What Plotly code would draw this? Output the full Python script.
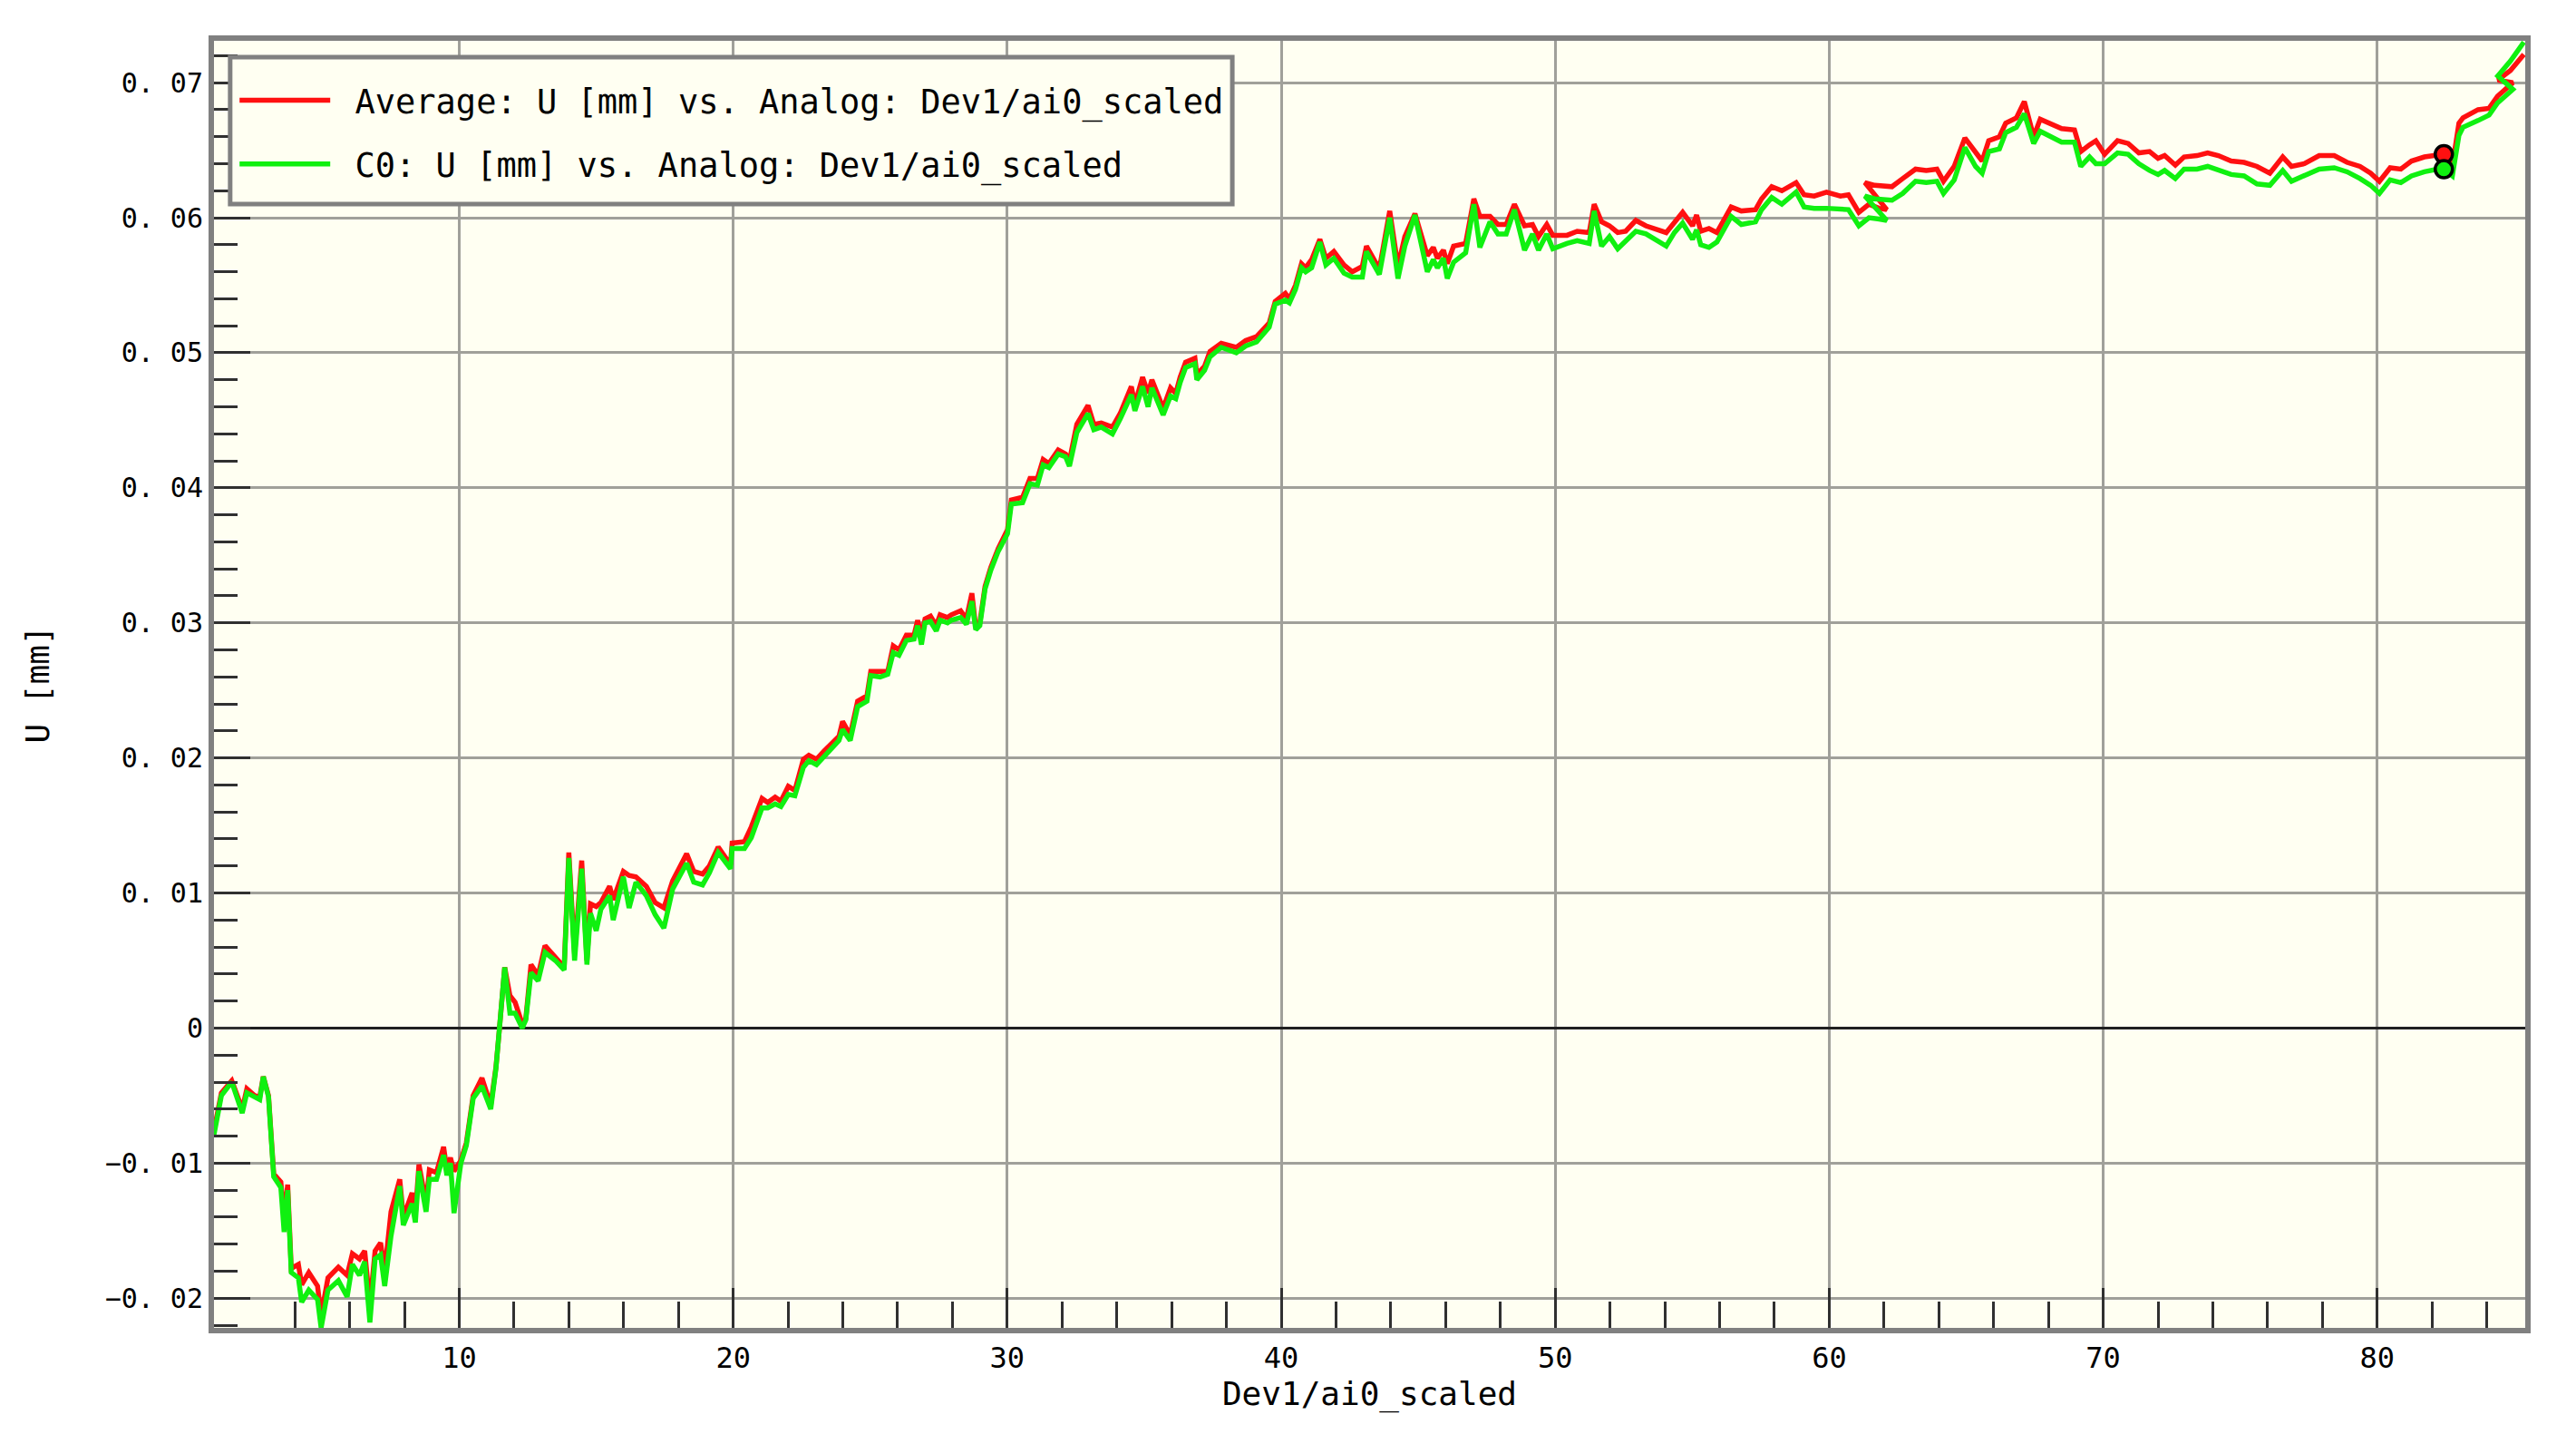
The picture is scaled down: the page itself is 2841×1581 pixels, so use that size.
import plotly.graph_objects as go

# values
analog = [
    1.05, 1.32, 1.70, 2.08, 2.25, 2.53, 2.72, 2.85, 3.04, 3.23, 3.49, 3.61, 3.74, 3.87,
    4.13, 4.25, 4.51, 4.83, 4.96, 5.21, 5.59, 5.91, 6.10, 6.36, 6.55, 6.74, 6.93, 7.13,
    7.28, 7.51, 7.83, 7.96, 8.28, 8.40, 8.53, 8.79, 8.91, 9.17, 9.43, 9.55, 9.68, 9.81,
    10.06, 10.26, 10.51, 10.83, 11.15, 11.34, 11.47, 11.66, 11.85, 12.04, 12.30, 12.43,
    12.62, 12.88, 13.13, 13.51, 13.83, 14.00, 14.21, 14.47, 14.66, 14.79, 15.00, 15.17,
    15.49, 15.62, 15.99, 16.20, 16.45, 16.83, 17.15, 17.47, 17.79, 18.30, 18.56, 18.88,
    19.13, 19.45, 19.90, 19.96, 20.41, 20.66,
    21.05, 21.26, 21.53, 21.74, 22.01, 22.25, 22.56, 22.76, 23.04, 23.31, 23.86, 23.99,
    24.27, 24.54, 24.88, 25.02, 25.36, 25.64, 25.84, 26.05, 26.32, 26.60, 26.73, 26.87,
    27.00, 27.20, 27.41, 27.55, 27.82, 27.96, 28.30, 28.51, 28.71, 28.85, 29.00, 29.19,
    29.40, 29.67, 30.01, 30.15, 30.56, 30.83, 31.10, 31.31, 31.52, 31.86, 32.13, 32.27,
    32.54, 32.95, 33.16, 33.43, 33.84, 34.12, 34.53, 34.66, 34.94, 35.14, 35.28, 35.69,
    35.96, 36.15, 36.31, 36.51, 36.85, 36.92, 37.20, 37.40, 37.81, 38.36, 38.70, 39.10,
    39.56, 39.78, 40.15, 40.30, 40.52, 40.74, 40.89, 41.11, 41.41, 41.63, 41.92, 42.29,
    42.59, 42.96, 43.11, 43.30, 43.58, 43.96, 44.26, 44.51, 44.88, 45.33, 45.55, 45.70,
    45.92, 46.06, 46.29, 46.73, 47.03, 47.25, 47.62, 47.91, 48.21, 48.51, 48.88, 49.17,
    49.39, 49.69, 49.91, 50.43, 50.80, 51.24, 51.42, 51.69, 51.98, 52.28, 52.57, 52.94,
    53.31, 54.05, 54.35, 54.65, 55.01, 55.16, 55.31, 55.61, 55.90, 56.42, 56.79, 57.31,
    57.53, 57.90, 58.27, 58.79, 59.08, 59.45, 59.90, 60.41, 60.70, 61.08, 61.45, 61.82,
    62.10, 61.30, 61.66, 62.29, 62.68, 63.15, 63.54, 63.93, 64.17, 64.56, 64.95, 65.34,
    65.58, 65.82, 66.21, 66.44, 66.83, 67.12, 67.46, 67.70, 68.01, 68.48, 68.95, 69.18,
    69.50, 69.73, 70.05, 70.52, 70.91, 71.30, 71.69, 72.00, 72.24, 72.63, 72.95, 73.42,
    73.81, 74.20, 74.67, 75.14, 75.61, 76.08, 76.55, 76.87, 77.34, 77.88, 78.43, 78.90,
    79.37, 79.76, 80.08, 80.47, 80.86, 81.25, 81.72, 82.19, 82.43, 82.74, 82.98, 83.13,
    83.68, 84.08, 84.39, 84.95, 84.40, 84.86, 85.35,
]

u_average = [
    -0.0076, -0.0048, -0.0039, -0.0060, -0.0045, -0.0050, -0.0051, -0.0036, -0.0050, -0.0108,
    -0.0114, -0.0140, -0.0116, -0.0178, -0.0175, -0.0190, -0.0181, -0.0191, -0.0213, -0.0185,
    -0.0177, -0.0183, -0.0167, -0.0171, -0.0165, -0.0205, -0.0165, -0.0159, -0.0180, -0.0136,
    -0.0112, -0.0140, -0.0122, -0.0138, -0.0101, -0.0130, -0.0105, -0.0107, -0.0088, -0.0105,
    -0.0096, -0.0106, -0.0098, -0.0085, -0.0050, -0.0037, -0.0057, -0.0029, 0.0000, 0.0045,
    0.0024, 0.0019, 0.0003, 0.0007, 0.0047, 0.0039, 0.0061, 0.0053, 0.0045, 0.0130,
    0.0055, 0.0124, 0.0050, 0.0092, 0.0090, 0.0093, 0.0105, 0.0095, 0.0116, 0.0113,
    0.0112, 0.0105, 0.0093, 0.0089, 0.0109, 0.0129, 0.0116, 0.0114, 0.0120, 0.0134,
    0.0121, 0.0137, 0.0138, 0.0149,
    0.0170, 0.0167, 0.0171, 0.0168, 0.0179, 0.0176, 0.0199, 0.0202, 0.0199, 0.0205,
    0.0216, 0.0227, 0.0217, 0.0242, 0.0246, 0.0264, 0.0264, 0.0264, 0.0283, 0.0280,
    0.0291, 0.0291, 0.0302, 0.0290, 0.0303, 0.0305, 0.0298, 0.0306, 0.0304, 0.0306,
    0.0309, 0.0303, 0.0322, 0.0297, 0.0300, 0.0327, 0.0341, 0.0355, 0.0369, 0.0391,
    0.0393, 0.0407, 0.0407, 0.0421, 0.0418, 0.0428, 0.0425, 0.0420, 0.0447, 0.0461,
    0.0447, 0.0448, 0.0445, 0.0455, 0.0475, 0.0462, 0.0482, 0.0470, 0.0480, 0.0459,
    0.0474, 0.0470, 0.0482, 0.0493, 0.0496, 0.0484, 0.0490, 0.0501, 0.0507, 0.0504,
    0.0509, 0.0512,
    0.0522, 0.0538, 0.0544, 0.0540, 0.0550, 0.0566, 0.0563, 0.0569, 0.0584, 0.0570,
    0.0575, 0.0565, 0.0560, 0.0564, 0.0579, 0.0572, 0.0562, 0.0605, 0.0564, 0.0586,
    0.0603, 0.0572, 0.0578, 0.0570, 0.0576, 0.0566, 0.0579, 0.0581, 0.0614, 0.0601,
    0.0601, 0.0595, 0.0595, 0.0610, 0.0594, 0.0595, 0.0586, 0.0595, 0.0587, 0.0587,
    0.0590, 0.0589, 0.0610, 0.0597, 0.0594, 0.0589, 0.0590, 0.0598, 0.0594, 0.0589,
    0.0596, 0.0604, 0.0594, 0.0602, 0.0590, 0.0592, 0.0589, 0.0608, 0.0605, 0.0606,
    0.0614, 0.0623, 0.0620, 0.0626, 0.0617, 0.0616, 0.0619, 0.0616, 0.0617, 0.0604,
    0.0610, 0.0607, 0.0606,
    0.0626, 0.0624, 0.0623, 0.0629, 0.0636, 0.0635, 0.0636, 0.0627, 0.0638, 0.0659,
    0.0648, 0.0642, 0.0657, 0.0660, 0.0670, 0.0674, 0.0686, 0.0660, 0.0673, 0.0670,
    0.0666, 0.0665, 0.0649, 0.0654, 0.0657, 0.0647, 0.0657, 0.0655, 0.0648, 0.0649,
    0.0644, 0.0646, 0.0639, 0.0645, 0.0646, 0.0648, 0.0646, 0.0642, 0.0641, 0.0638,
    0.0633, 0.0645, 0.0638, 0.0640, 0.0646, 0.0646, 0.0641, 0.0638, 0.0633, 0.0627,
    0.0637, 0.0636, 0.0642, 0.0645, 0.0646, 0.0647, 0.0638, 0.0670, 0.0674, 0.0680,
    0.0681, 0.0690, 0.0700, 0.0702, 0.0709, 0.0721,
]

u_c0 = [
    -0.0079, -0.0050, -0.0040, -0.0063, -0.0048, -0.0051, -0.0053, -0.0036, -0.0051, -0.0110,
    -0.0118, -0.0151, -0.0120, -0.0181, -0.0185, -0.0203, -0.0194, -0.0201, -0.0222, -0.0194,
    -0.0187, -0.0199, -0.0175, -0.0183, -0.0173, -0.0218, -0.0171, -0.0168, -0.0191, -0.0154,
    -0.0117, -0.0146, -0.0130, -0.0144, -0.0106, -0.0136, -0.0112, -0.0112, -0.0094, -0.0109,
    -0.0100, -0.0137, -0.0100, -0.0087, -0.0052, -0.0043, -0.0060, -0.0030, 0.0000, 0.0045,
    0.0011, 0.0011, 0.0000, 0.0006, 0.0041, 0.0035, 0.0056, 0.0050, 0.0043, 0.0126,
    0.0050, 0.0118, 0.0047, 0.0085, 0.0072, 0.0088, 0.0098, 0.0080, 0.0112, 0.0089,
    0.0108, 0.0098, 0.0084, 0.0074, 0.0103, 0.0122, 0.0108, 0.0106, 0.0115, 0.0130,
    0.0118, 0.0133, 0.0133, 0.0141,
    0.0163, 0.0163, 0.0166, 0.0164, 0.0173, 0.0172, 0.0193, 0.0198, 0.0195, 0.0201,
    0.0213, 0.0221, 0.0213, 0.0238, 0.0242, 0.0261, 0.0260, 0.0262, 0.0278, 0.0276,
    0.0287, 0.0288, 0.0298, 0.0284, 0.0300, 0.0301, 0.0294, 0.0302, 0.0300, 0.0302,
    0.0304, 0.0299, 0.0316, 0.0295, 0.0298, 0.0325, 0.0339, 0.0353, 0.0366, 0.0388,
    0.0389, 0.0403, 0.0402, 0.0417, 0.0415, 0.0425, 0.0423, 0.0416, 0.0441, 0.0455,
    0.0443, 0.0445, 0.0440, 0.0451, 0.0469, 0.0457, 0.0475, 0.0460, 0.0474, 0.0454,
    0.0468, 0.0466, 0.0478, 0.0489, 0.0492, 0.0480, 0.0487, 0.0497, 0.0504, 0.0500,
    0.0505, 0.0508,
    0.0519, 0.0536, 0.0539, 0.0537, 0.0547, 0.0563, 0.0560, 0.0563, 0.0582, 0.0565,
    0.0570, 0.0559, 0.0556, 0.0556, 0.0575, 0.0568, 0.0558, 0.0600, 0.0555, 0.0579,
    0.0602, 0.0560, 0.0569, 0.0563, 0.0570, 0.0555, 0.0567, 0.0574, 0.0610, 0.0578,
    0.0597, 0.0588, 0.0588, 0.0606, 0.0576, 0.0588, 0.0576, 0.0588, 0.0577, 0.0581,
    0.0583, 0.0581, 0.0605, 0.0579, 0.0586, 0.0577, 0.0583, 0.0590, 0.0588, 0.0579,
    0.0589, 0.0596, 0.0584, 0.0591, 0.0580, 0.0578, 0.0582, 0.0601, 0.0595, 0.0597,
    0.0606, 0.0615, 0.0610, 0.0619, 0.0608, 0.0607, 0.0607, 0.0606, 0.0606, 0.0594,
    0.0600, 0.0599, 0.0598,
    0.0616, 0.0614, 0.0613, 0.0618, 0.0627, 0.0626, 0.0627, 0.0618, 0.0628, 0.0652,
    0.0638, 0.0633, 0.0649, 0.0651, 0.0663, 0.0667, 0.0677, 0.0655, 0.0664, 0.0661,
    0.0656, 0.0656, 0.0638, 0.0645, 0.0640, 0.0640, 0.0648, 0.0647, 0.0640, 0.0635,
    0.0632, 0.0635, 0.0629, 0.0636, 0.0636, 0.0638, 0.0635, 0.0632, 0.0631, 0.0625,
    0.0624, 0.0635, 0.0627, 0.0631, 0.0636, 0.0637, 0.0634, 0.0629, 0.0624, 0.0618,
    0.0628, 0.0626, 0.0631, 0.0634, 0.0636, 0.0636, 0.0631, 0.0661, 0.0667, 0.0672,
    0.0676, 0.0685, 0.0695, 0.0705, 0.0716, 0.0730,
]

# cursor markers
cursor_x = [82.43]
cursor_average = [0.0647]
cursor_c0 = [0.0636]

x_ticks = [10, 20, 30, 40, 50, 60, 70, 80]
x_minor = [v for v in range(4, 86, 2) if v % 10]
y_ticks = [-0.02, -0.01, 0, 0.01, 0.02, 0.03, 0.04, 0.05, 0.06, 0.07]
y_labels = ["\u22120. 02", "\u22120. 01", "0", "0. 01", "0. 02", "0. 03",
            "0. 04", "0. 05", "0. 06", "0. 07"]

RED = "#ff1010"
GREEN = "#10f010"
FONT = "DejaVu Sans Mono"
PAD = "\u00a0"

fig = go.Figure()
fig.add_trace(go.Scatter(
    x=analog, y=u_average, mode="lines", legendgroup="a",
    name=PAD + "Average: U [mm] vs. Analog: Dev1/ai0_scaled",
    line=dict(color=RED, width=5.5),
))
fig.add_trace(go.Scatter(
    x=analog, y=u_c0, mode="lines", legendgroup="b",
    name=PAD + "C0: U [mm] vs. Analog: Dev1/ai0_scaled",
    line=dict(color=GREEN, width=5.5),
))
fig.add_trace(go.Scatter(
    x=cursor_x, y=cursor_average, mode="markers", showlegend=False,
    marker=dict(color=RED, size=19, line=dict(color="black", width=3.5)),
))
fig.add_trace(go.Scatter(
    x=cursor_x, y=cursor_c0, mode="markers", showlegend=False,
    marker=dict(color=GREEN, size=19, line=dict(color="black", width=3.5)),
))

tick_style = dict(ticks="inside", tickwidth=3, tickcolor="#303030")

fig.update_xaxes(
    range=[1.05, 85.4], tickmode="array", tickvals=x_ticks, ticklen=44,
    tickfont=dict(family=FONT, size=32, color="black"),
    showgrid=True, gridcolor="#a0a09a", gridwidth=3,
    showline=True, linecolor="#808080", linewidth=6, mirror=True, zeroline=False,
    minor=dict(tickmode="array", tickvals=x_minor, ticklen=29, showgrid=False, **tick_style),
    title=dict(text="Dev1/ai0_scaled", font=dict(family=FONT, size=36, color="black"),
               standoff=8),
    **tick_style,
)
fig.update_yaxes(
    range=[-0.0222, 0.0731], tickmode="array", tickvals=y_ticks, ticktext=y_labels,
    ticklen=40, tickfont=dict(family=FONT, size=30, color="black"),
    showgrid=True, gridcolor="#a0a09a", gridwidth=3,
    showline=True, linecolor="#808080", linewidth=6, mirror=True,
    zeroline=True, zerolinecolor="#202020", zerolinewidth=3,
    minor=dict(tickmode="linear", tick0=0, dtick=0.002, ticklen=26, showgrid=False, **tick_style),
    title=dict(text="U [mm]", font=dict(family=FONT, size=36, color="black"), standoff=52),
    **tick_style,
)

# legend frame drawn as a box, the legend itself sits inside it
fig.add_shape(
    type="rect", xref="paper", yref="paper", x0=0.0070, x1=0.4406, y0=0.8731, y1=0.9873,
    line=dict(color="#808080", width=5), fillcolor="#fffff2", layer="above",
)

# the page adds 8 px of body margin, so the figure is 16 px smaller
fig.update_layout(
    width=2825, height=1565,
    margin=dict(l=228, r=48, t=37, b=109, autoexpand=False),
    paper_bgcolor="white", plot_bgcolor="#fffff2",
    font=dict(family=FONT, color="black"),
    showlegend=True,
    legend=dict(
        x=0.0091, y=0.9753, xanchor="left", yanchor="top",
        bgcolor="rgba(0,0,0,0)", borderwidth=0,
        font=dict(family=FONT, size=37, color="black"),
        tracegroupgap=19, itemwidth=100,
    ),
)

fig.write_html("out.html")
